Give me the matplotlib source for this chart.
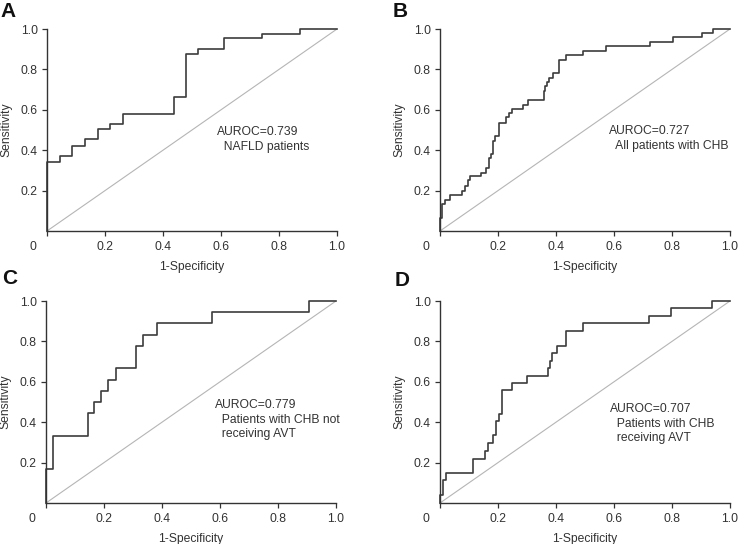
import matplotlib
matplotlib.use("Agg")
import matplotlib.pyplot as plt

plt.rcParams['font.family'] = ['Liberation Sans', 'DejaVu Sans']

# ROC corner points (1-specificity, sensitivity)
fpr_a = [0, 0, 0.045, 0.085, 0.131, 0.177, 0.218, 0.263, 0.437, 0.479, 0.522, 0.609, 0.741, 0.874, 1.0]
tpr_a = [0, 0.34, 0.37, 0.42, 0.454, 0.503, 0.528, 0.581, 0.662, 0.878, 0.899, 0.954, 0.977, 1.0, 1.0]

fpr_b = [0, 0, 0.007, 0.018, 0.034, 0.075, 0.086, 0.098, 0.105, 0.141, 0.159, 0.168, 0.176, 0.182,
         0.191, 0.205, 0.228, 0.237, 0.248, 0.285, 0.302, 0.357, 0.361, 0.369, 0.377, 0.389, 0.409,
         0.434, 0.492, 0.572, 0.725, 0.805, 0.903, 0.940, 1.0]
tpr_b = [0, 0.063, 0.132, 0.153, 0.18, 0.198, 0.224, 0.252, 0.272, 0.289, 0.314, 0.363, 0.381, 0.447,
         0.472, 0.533, 0.563, 0.583, 0.602, 0.624, 0.649, 0.693, 0.718, 0.738, 0.759, 0.784, 0.847,
         0.871, 0.891, 0.916, 0.937, 0.959, 0.979, 1.0, 1.0]

fpr_c = [0, 0, 0.023, 0.146, 0.166, 0.190, 0.215, 0.240, 0.310, 0.336, 0.384, 0.574, 0.908, 1.0]
tpr_c = [0, 0.167, 0.333, 0.444, 0.5, 0.556, 0.611, 0.667, 0.778, 0.833, 0.889, 0.944, 1.0, 1.0]

fpr_d = [0, 0, 0.009, 0.021, 0.115, 0.155, 0.167, 0.184, 0.193, 0.205, 0.215, 0.247, 0.301, 0.371,
         0.379, 0.386, 0.403, 0.433, 0.492, 0.722, 0.795, 0.939, 1.0]
tpr_d = [0, 0.038, 0.112, 0.148, 0.220, 0.258, 0.298, 0.336, 0.408, 0.442, 0.561, 0.594, 0.630, 0.666,
         0.704, 0.742, 0.778, 0.852, 0.893, 0.926, 0.967, 1.0, 1.0]

panel_letters = ['A', 'B', 'C', 'D']
auroc_texts = ['AUROC=0.739\n  NAFLD patients',
               'AUROC=0.727\n  All patients with CHB',
               'AUROC=0.779\n  Patients with CHB not\n  receiving AVT',
               'AUROC=0.707\n  Patients with CHB\n  receiving AVT']
text_pos = [(0.585, 0.52), (0.584, 0.525), (0.584, 0.515), (0.586, 0.495)]
tick_vals = [0.2, 0.4, 0.6, 0.8, 1.0]
tick_labels = ['0.2', '0.4', '0.6', '0.8', '1.0']

W, H = 739, 544
fig = plt.figure(figsize=(W / 100, H / 100), dpi=100)

# axes boxes in pixels: left, right, top, bottom
boxes = [(47, 337, 29, 231), (440, 730, 29, 231), (46, 336, 301, 503), (440, 730, 301, 503)]
curves = [(fpr_a, tpr_a), (fpr_b, tpr_b), (fpr_c, tpr_c), (fpr_d, tpr_d)]
letter_pos = [(0, 2), (393, 2), (2, 269), (395, 271)]

txt_col = '#333333'
fs = 8.7

for i in range(4):
    l, r, t, b = boxes[i]
    ax = fig.add_axes([l / W, 1 - b / H, (r - l) / W, (b - t) / H])
    ax.plot([0, 1], [0, 1], color='#b5b5b5', lw=0.8, zorder=1)
    x, y = curves[i]
    ax.plot(x, y, drawstyle='steps-post', color='#3c3c3c', lw=1.2, clip_on=False, zorder=2)
    ax.set_xlim(0, 1)
    ax.set_ylim(0, 1)
    for s in ['top', 'right']:
        ax.spines[s].set_visible(False)
    for s in ['left', 'bottom']:
        ax.spines[s].set_color('#333333')
        ax.spines[s].set_linewidth(1.0)
    ax.set_xticks([0] + tick_vals)
    ax.set_xticklabels([''] + tick_labels)
    ax.set_yticks(tick_vals)
    ax.set_yticklabels(tick_labels)
    ax.tick_params(direction='out', length=3.5, width=0.9, color='#333333',
                   labelsize=fs, labelcolor=txt_col, pad=3)
    ax.tick_params(axis='x', pad=4)
    ax.annotate('0', xy=(0, 0), xytext=(-10, -11.5), textcoords='offset points',
                ha='center', va='center', fontsize=fs, color=txt_col)
    ax.set_xlabel('1-Specificity', fontsize=fs, color=txt_col, labelpad=5.5)
    ax.set_ylabel('Sensitivity', fontsize=fs, color=txt_col, labelpad=6)
    tx, ty = text_pos[i]
    ax.text(tx, ty, auroc_texts[i], fontsize=fs, color=txt_col, ha='left', va='top',
            linespacing=1.3)
    lx, ly = letter_pos[i]
    fig.text(lx / W, 1 - ly / H, panel_letters[i], fontsize=15, fontweight='bold',
             family=['Liberation Sans Narrow', 'Liberation Sans'], color='#111111',
             ha='left', va='top')

fig.savefig('out.png', dpi=100)
